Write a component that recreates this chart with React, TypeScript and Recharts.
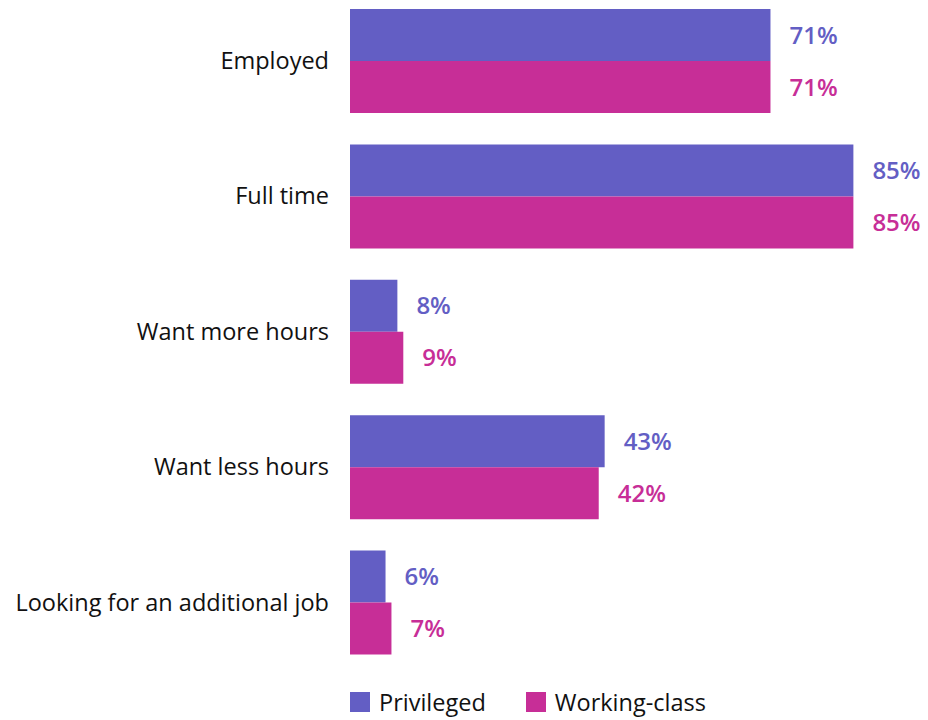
import React from 'react';
import { BarChart, Bar, XAxis, YAxis, Legend, LabelList } from 'recharts';

const categories = [
  'Employed',
  'Full time',
  'Want more hours',
  'Want less hours',
  'Looking for an additional job',
];
const privileged = [71, 85, 8, 43, 6];
const workingClass = [71, 85, 9, 42, 7];

const PURPLE = '#635EC4';
const MAGENTA = '#C72E97';
const FONT = '"Open Sans", sans-serif';

const data = categories.map((name, i) => ({
  name,
  privileged: privileged[i],
  workingClass: workingClass[i],
}));

const pct = (v: any) => `${v}%`;

const LegendContent = () => (
  <div
    style={{
      display: 'flex',
      alignItems: 'center',
      height: 40,
      paddingLeft: 350,
      fontFamily: FONT,
      fontSize: 23.5,
      color: '#111',
    }}
  >
    <span style={{ width: 20, height: 20, background: PURPLE, marginRight: 9 }} />
    <span style={{ marginRight: 40 }}>Privileged</span>
    <span style={{ width: 20, height: 20, background: MAGENTA, marginRight: 9 }} />
    <span>Working-class</span>
  </div>
);

const App: React.FC = () => {
  return (
    <div style={{ position: 'absolute', left: 0, top: 0 }}>
      <BarChart
        width={928}
        height={720}
        data={data}
        layout="vertical"
        margin={{ top: -7, right: 45, left: 0, bottom: 10 }}
        barCategoryGap={16}
        barGap={0}
      >
        <XAxis type="number" domain={[0, 90]} hide />
        <YAxis
          type="category"
          dataKey="name"
          width={350}
          axisLine={false}
          tickLine={false}
          tickSize={6}
          tickMargin={15}
          tick={{ fill: '#111', fontSize: 23.5, fontFamily: FONT }}
        />
        <Legend
          verticalAlign="bottom"
          content={<LegendContent />}
          wrapperStyle={{ bottom: -2 }}
        />
        <Bar dataKey="privileged" name="Privileged" fill={PURPLE} isAnimationActive={false}>
          <LabelList
            dataKey="privileged"
            position="right"
            offset={19}
            formatter={pct}
            style={{ fill: PURPLE, fontSize: 24, fontWeight: 600, fontFamily: FONT }}
          />
        </Bar>
        <Bar dataKey="workingClass" name="Working-class" fill={MAGENTA} isAnimationActive={false}>
          <LabelList
            dataKey="workingClass"
            position="right"
            offset={19}
            formatter={pct}
            style={{ fill: MAGENTA, fontSize: 24, fontWeight: 600, fontFamily: FONT }}
          />
        </Bar>
      </BarChart>
    </div>
  );
};

export default App;
